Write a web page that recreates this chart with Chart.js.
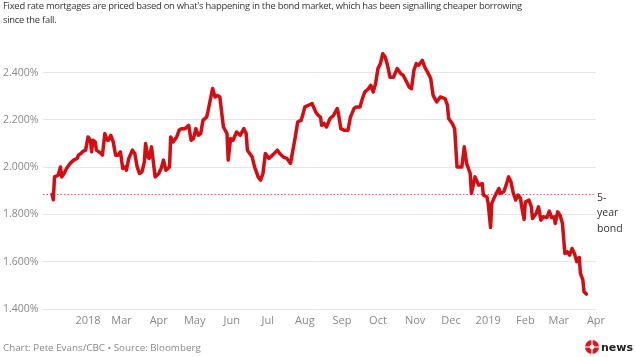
<!DOCTYPE html>
<html>
<head>
<meta charset="utf-8">
<script src="https://cdn.jsdelivr.net/npm/chart.js@4"></script>
<style>
  html, body { margin: 0; padding: 0; background: #fff; }
  #wrap { position: relative; width: 635px; height: 357px; overflow: hidden; }
  #chart { position: absolute; left: 0; top: 0; }
  #title { position: absolute; left: 3px; top: -1px; width: 540px; font-family: "Open Sans", sans-serif; font-size: 9.4px; letter-spacing: -0.25px; line-height: 14px; color: #333; }
  #footer { position: absolute; left: 3px; top: 341px; font-family: "Open Sans", sans-serif; font-size: 9.8px; line-height: 14px; color: #888; }
</style>
</head>
<body>
<div id="wrap">
  <canvas id="chart" width="635" height="357"></canvas>
  <div id="title">Fixed rate mortgages are priced based on what's happening in the bond market, which has been signalling cheaper borrowing since the fall.</div>
  <div id="footer">Chart: Pete Evans/CBC • Source: Bloomberg</div>
</div>
<script>
// Days since 2018-01-01
const days = [1,2,3,6,8,9,11,13,16,19,22,23,25,27,29,31,33,34,35,37,38,40,42,43,45,47,48,50,52,54,56,58,60,62,63,65,68,70,72,74,76,78,79,81,82,84,86,87,90,92,94,96,99,100,102,105,107,109,112,115,117,119,121,123,125,127,130,131,135,137,139,141,144,147,148,150,152,155,158,161,163,164,168,170,173,175,177,179,182,185,189,191,194,197,200,202,204,206,209,212,215,218,221,223,225,226,228,230,233,236,239,240,242,245,248,250,253,255,258,260,262,265,267,269,271,273,275,277,279,281,283,286,289,292,294,297,299,301,303,305,307,310,312,315,317,319,322,325,329,331,332,335,337,339,343,345,347,350,351,354,357,360,361,364,365,367,368,371,374,375,378,380,382,384,386,388,390,392,393,395,396,399,401,402,405,407,409,411,414,416,418,420,421,423,425,427,429,431,433,435,437,439,441,442,444,445,447];
// 5-year bond yield, %
const yields = [1.886,1.862,1.959,1.966,2.001,1.959,1.973,1.994,2.016,2.030,2.037,2.051,2.058,2.068,2.072,2.128,2.114,2.065,2.114,2.107,2.072,2.065,2.058,2.051,2.142,2.114,2.114,2.135,2.107,2.051,2.051,2.065,1.994,2.001,1.987,2.037,2.072,2.058,2.001,1.973,1.980,2.022,2.100,2.043,2.037,2.086,2.001,1.959,1.973,1.994,2.030,1.987,2.001,2.128,2.107,2.128,2.156,2.163,2.163,2.177,2.114,2.121,2.163,2.135,2.142,2.199,2.212,2.234,2.333,2.297,2.304,2.297,2.170,2.142,2.030,2.121,2.114,2.149,2.135,2.163,2.142,2.072,2.043,2.001,1.959,1.945,1.973,2.058,2.037,2.051,2.072,2.058,2.043,2.037,2.016,2.072,2.128,2.191,2.199,2.255,2.262,2.269,2.234,2.220,2.212,2.177,2.185,2.170,2.206,2.220,2.248,2.227,2.163,2.156,2.156,2.212,2.248,2.255,2.255,2.290,2.318,2.332,2.346,2.318,2.354,2.417,2.438,2.480,2.466,2.431,2.381,2.381,2.417,2.396,2.389,2.360,2.339,2.332,2.410,2.438,2.431,2.452,2.424,2.396,2.375,2.304,2.276,2.297,2.290,2.262,2.206,2.185,2.163,2.001,2.001,2.086,2.016,1.973,1.889,1.959,1.924,1.931,1.882,1.874,1.847,1.745,1.847,1.882,1.910,1.889,1.896,1.924,1.959,1.938,1.889,1.861,1.882,1.868,1.832,1.779,1.853,1.861,1.832,1.783,1.804,1.832,1.776,1.790,1.787,1.814,1.787,1.790,1.762,1.811,1.797,1.762,1.635,1.642,1.628,1.656,1.635,1.600,1.618,1.551,1.523,1.473,1.463];
// x-axis ticks (month starts, days since 2018-01-01) and their labels
const xTickDays = [31,59,90,120,151,181,212,243,273,304,334,365,396,424,455];
const xTickLabels = ["2018","Mar","Apr","May","Jun","Jul","Aug","Sep","Oct","Nov","Dec","2019","Feb","Mar","Apr"];
// y-axis ticks
const yTickValues = [1.4,1.6,1.8,2.0,2.2,2.4];
// reference line
const bondLevel = 1.885;
const bondLabel = ["5-","year","bond"];

const FONT = '"Open Sans", sans-serif';

const refLine = {
  id: 'refLine',
  beforeDatasetsDraw(chart) {
    const {ctx, chartArea, scales} = chart;
    const y = Math.round(scales.y.getPixelForValue(bondLevel)) + 0.5;
    ctx.save();
    ctx.strokeStyle = 'rgba(210,40,40,0.75)';
    ctx.lineWidth = 1;
    ctx.setLineDash([1.5, 2]);
    ctx.beginPath();
    ctx.moveTo(chartArea.left, y);
    ctx.lineTo(chartArea.right, y);
    ctx.stroke();
    ctx.restore();
  },
  afterDraw(chart) {
    const {ctx, chartArea, scales} = chart;
    const y = scales.y.getPixelForValue(bondLevel);
    ctx.save();
    ctx.fillStyle = '#333';
    ctx.font = '10.5px ' + FONT;
    ctx.textAlign = 'left';
    ctx.textBaseline = 'alphabetic';
    bondLabel.forEach((t, i) => ctx.fillText(t, chartArea.right + 1, y + 6.5 + i * 15.5));
    // CBC news logo
    const cx = 592, cy = 347, r = 7;
    ctx.fillStyle = '#e0161d';
    ctx.beginPath();
    ctx.arc(cx, cy, r, 0, Math.PI * 2);
    ctx.fill();
    ctx.strokeStyle = '#fff';
    ctx.lineWidth = 1.2;
    ctx.beginPath();
    ctx.moveTo(cx - r, cy); ctx.lineTo(cx + r, cy);
    ctx.moveTo(cx, cy - r); ctx.lineTo(cx, cy + r);
    ctx.stroke();
    ctx.beginPath();
    ctx.arc(cx, cy, 2.4, 0, Math.PI * 2);
    ctx.fillStyle = '#fff';
    ctx.fill();
    ctx.fillStyle = '#222';
    ctx.font = 'bold 11px "DejaVu Sans", sans-serif';
    ctx.fillText('news', 601, 351);
    ctx.restore();
  }
};

new Chart(document.getElementById('chart'), {
  type: 'line',
  data: {
    datasets: [{
      data: days.map((d, i) => ({x: d, y: yields[i]})),
      borderColor: '#d40d12',
      borderWidth: 3.5,
      pointRadius: 0,
      tension: 0,
      borderJoinStyle: 'round',
      borderCapStyle: 'round',
      fill: false
    }]
  },
  options: {
    responsive: false,
    animation: false,
    events: [],
    layout: { padding: { left: 3, right: 39, top: 49, bottom: 0 } },
    plugins: { legend: { display: false }, tooltip: { enabled: false }, title: { display: false } },
    scales: {
      x: {
        type: 'linear',
        min: -6.6,
        max: 455,
        afterBuildTicks: s => { s.ticks = xTickDays.map(v => ({value: v})); },
        afterFit: s => { s.height = 48; },
        grid: { display: false, drawTicks: false },
        border: { display: false },
        ticks: {
          autoSkip: false,
          maxRotation: 0,
          padding: 5,
          color: '#888',
          font: { family: FONT, size: 11 },
          callback: (v, i) => xTickLabels[i]
        }
      },
      y: {
        min: 1.4,
        max: 2.5,
        afterBuildTicks: s => { s.ticks = yTickValues.map(v => ({value: v})); },
        afterFit: s => { s.width = 40; },
        grid: { color: '#e6e6e6', lineWidth: 1, drawTicks: false },
        border: { display: false },
        ticks: {
          crossAlign: 'far',
          padding: 0,
          color: '#888',
          font: { family: FONT, size: 10.5 },
          callback: v => v.toFixed(3) + '%'
        }
      }
    }
  },
  plugins: [refLine]
});
</script>
</body>
</html>
